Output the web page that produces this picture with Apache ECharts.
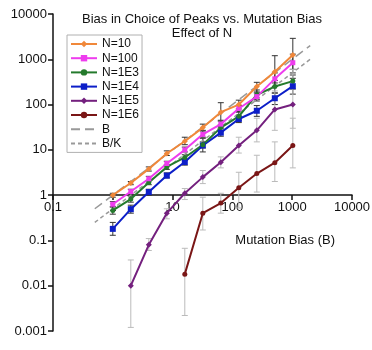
<!DOCTYPE html>
<html>
<head>
<meta charset="utf-8">
<script src="https://cdn.jsdelivr.net/npm/echarts@6/dist/echarts.min.js"></script>
<style>
  html, body { margin: 0; padding: 0; background: #fff; }
  #main { width: 372px; height: 350px; }
</style>
</head>
<body>
<div id="main"></div>
<script>
// mutation bias values (x)
var xVals = [1, 2, 4, 8, 16, 32, 64, 128, 256, 512, 1024];

// bias in outcomes, one array per population size
var n10  = [1.0, 1.85, 3.8, 8.3, 15.5, 31, 68, 100, 250, 530, 1250];
var n100 = [0.63, 1.2, 2.3, 5.0, 10, 22, 37, 82, 150, 370, 840];
var n1e3 = [0.46, 0.82, 1.9, 4.2, 6.8, 13, 31, 55, 165, 250, 330];
var n1e4 = [0.18, 0.49, 1.17, 2.7, 5.4, 12.5, 24, 48, 73, 138, 255];
var n1e5 = [null, 0.01, 0.08, 0.4, 1.1, 2.5, 5.3, 12.5, 27, 78, 100];
var n1e6 = [null, null, null, null, 0.018, 0.4, 0.67, 1.45, 3.0, 5.2, 12.5];

// error bars [low, high]
var err10  = [[0.9,1.1],[1.7,2.0],[3.4,4.2],[7.5,9.5],[13,19],[27,37],[45,110],[80,125],[180,310],[300,1200],[600,2900]];
var err100 = [[0.55,0.72],[1.05,1.35],[2.1,2.6],[4.5,5.6],[9,11.5],[19,26],[32,43],[70,95],[120,190],[250,500],[500,1300]];
var err1e3 = [[0.38,0.55],[0.7,0.95],[1.7,2.1],[3.7,4.7],[6,7.8],[11,15],[26,36],[45,68],[130,210],[180,340],[220,450]];
var err1e4 = [[0.13,0.25],[0.4,0.6],[1.0,1.35],[2.4,3.1],[4.6,6.3],[9,18],[20,30],[40,58],[55,95],[100,180],[170,380]];
var err1e5 = [null,[0.0012,0.037],[0.06,0.11],[0.3,0.5],[0.8,1.4],[1.8,3.5],[4,7],[8.5,19],[15,50],[27,200],[30,600]];
var err1e6 = [null,null,null,null,[0.0022,0.067],[0.17,0.9],[0.4,1.1],[0.52,3.2],[1.17,7.6],[2,15],[4,50]];

// reference lines B and B/K
var refX = [0.5, 2000];
var K = 2;

var xTicks = [0.1, 1, 10, 100, 1000, 10000];
var yTicks = [0.001, 0.01, 0.1, 1, 10, 100, 1000, 10000];

var font = '"Liberation Sans", Arial, sans-serif';

function pairs(vals) {
  var out = [];
  for (var i = 0; i < xVals.length; i++) {
    if (vals[i] != null) out.push([xVals[i], vals[i]]);
  }
  return out;
}
function errData(errs) {
  var out = [];
  for (var i = 0; i < xVals.length; i++) {
    if (errs[i]) out.push([xVals[i], errs[i][0], errs[i][1]]);
  }
  return out;
}
function errSeries(errs, color) {
  return {
    type: 'custom',
    z: 1,
    silent: true,
    data: errData(errs),
    renderItem: function (params, api) {
      var top = api.coord([api.value(0), api.value(2)]);
      var bot = api.coord([api.value(0), api.value(1)]);
      var w = 3;
      var st = { stroke: color, lineWidth: 1 };
      return {
        type: 'group',
        children: [
          { type: 'line', shape: { x1: top[0], y1: top[1], x2: bot[0], y2: bot[1] }, style: st },
          { type: 'line', shape: { x1: top[0] - w, y1: top[1], x2: top[0] + w, y2: top[1] }, style: st },
          { type: 'line', shape: { x1: bot[0] - w, y1: bot[1], x2: bot[0] + w, y2: bot[1] }, style: st }
        ]
      };
    }
  };
}
function lineSeries(name, vals, color, symbol, size) {
  return {
    name: name,
    type: 'line',
    z: 3,
    data: pairs(vals),
    symbol: symbol,
    symbolSize: size,
    lineStyle: { color: color, width: 2 },
    itemStyle: { color: color }
  };
}
function plainLabel(v) {
  return String(v);
}

var myChart = echarts.init(document.getElementById('main'));

var option = {
  animation: false,
  title: {
    text: 'Bias in Choice of Peaks vs. Mutation Bias\nEffect of N',
    left: 197,
    top: 7,
    textAlign: 'center',
    textStyle: { fontFamily: font, fontSize: 13, fontWeight: 'normal', color: '#111', lineHeight: 14 }
  },
  legend: {
    orient: 'vertical',
    left: 67,
    top: 35,
    padding: [2, 3, 2, 3],
    itemGap: 0.2,
    itemWidth: 26,
    itemHeight: 8,
    backgroundColor: '#fff',
    borderColor: '#b0b0b0',
    borderWidth: 1,
    borderRadius: 0,
    textStyle: { fontFamily: font, fontSize: 12, color: '#111', lineHeight: 14 },
    data: [
      'N=10', 'N=100', 'N=1E3', 'N=1E4', 'N=1E5', 'N=1E6',
      { name: 'B', itemStyle: { opacity: 0 }, lineStyle: { type: [9, 5] } },
      { name: 'B/K', itemStyle: { opacity: 0 }, lineStyle: { type: [4, 3] } }
    ]
  },
  grid: { left: 53, right: 20, top: 14, bottom: 19, outerBoundsMode: 'none', containLabel: false },
  xAxis: {
    type: 'log',
    logBase: 10,
    min: xTicks[0],
    max: xTicks[xTicks.length - 1],
    splitNumber: 5,
    offset: -136,
    name: 'Mutation Bias (B)',
    nameLocation: 'end',
    nameGap: -17,
    nameTextStyle: { fontFamily: font, fontSize: 13, color: '#111', align: 'right', verticalAlign: 'top', padding: [39, 0, 0, 0] },
    axisLine: { onZero: false, lineStyle: { color: '#111', width: 1.5 } },
    axisTick: { show: true, length: 5, lineStyle: { color: '#111', width: 1.5 } },
    axisLabel: { fontFamily: font, fontSize: 13, color: '#111', margin: 6, formatter: plainLabel },
    splitLine: { show: false }
  },
  yAxis: {
    type: 'log',
    logBase: 10,
    min: yTicks[0],
    max: yTicks[yTicks.length - 1],
    interval: 1,
    splitNumber: 7,
    name: 'Bias in Outcomes',
    nameLocation: 'middle',
    nameGap: 40,
    nameTextStyle: { fontFamily: font, fontSize: 13, color: '#111' },
    axisLine: { show: true, lineStyle: { color: '#111', width: 1.5 } },
    axisTick: { show: true, length: 5, lineStyle: { color: '#111', width: 1.5 } },
    axisLabel: { fontFamily: font, fontSize: 13, color: '#111', margin: 6, formatter: plainLabel },
    splitLine: { show: false }
  },
  series: [
    errSeries(err10, '#333'),
    errSeries(err100, '#333'),
    errSeries(err1e3, '#333'),
    errSeries(err1e4, '#333'),
    errSeries(err1e5, '#bbb'),
    errSeries(err1e6, '#bbb'),
    {
      name: 'B',
      type: 'line',
      z: 2,
      data: [[refX[0], refX[0]], [refX[1], refX[1]]],
      symbol: 'none',
      lineStyle: { color: '#999', width: 1.5, type: [9, 5] },
      itemStyle: { color: '#999' }
    },
    {
      name: 'B/K',
      type: 'line',
      z: 2,
      data: [[refX[0], refX[0] / K], [refX[1], refX[1] / K]],
      symbol: 'none',
      lineStyle: { color: '#999', width: 1.5, type: [4, 3] },
      itemStyle: { color: '#999' }
    },
    lineSeries('N=1E6', n1e6, '#7a1616', 'circle', 5),
    lineSeries('N=1E5', n1e5, '#74207e', 'diamond', 6),
    lineSeries('N=1E4', n1e4, '#0c1ec8', 'rect', 6),
    lineSeries('N=1E3', n1e3, '#247a2c', 'circle', 5),
    lineSeries('N=100', n100, '#ee3cee', 'rect', 5),
    lineSeries('N=10', n10, '#f0883a', 'diamond', 6)
  ]
};

myChart.setOption(option);
</script>
</body>
</html>
